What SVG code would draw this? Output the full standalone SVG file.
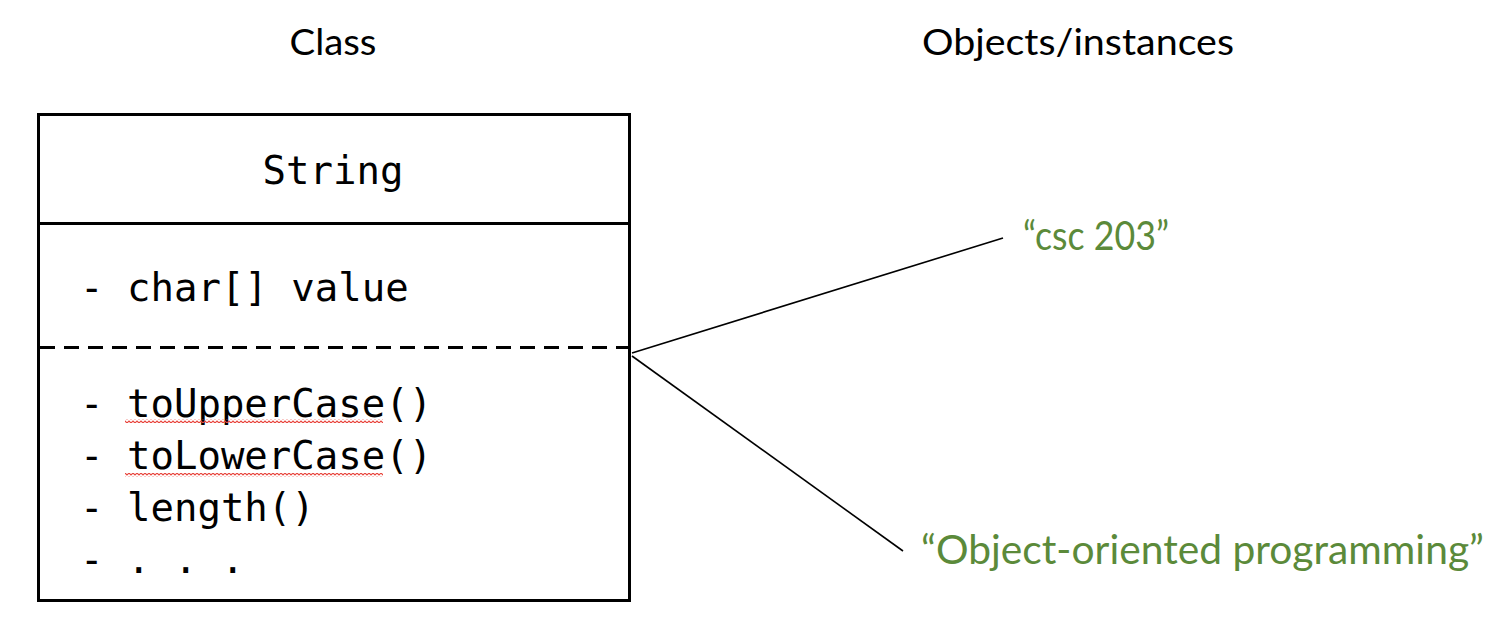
<svg xmlns="http://www.w3.org/2000/svg" width="1496" height="620" viewBox="0 0 1496 620">
<style>
.hdr{font-family:Lato,"Open Sans","Liberation Sans",sans-serif;font-size:36px;fill:#000}
.mono{font-family:"DejaVu Sans Mono","Liberation Mono",monospace;font-size:39px;fill:#000}
.obj{font-family:Lato,"Open Sans","Liberation Sans",sans-serif;font-size:40px;fill:#5b8a3a}
.box{fill:#fff;stroke:#000;stroke-width:3}
.sep{stroke:#000;stroke-width:3}
.dash{stroke:#000;stroke-width:3;stroke-dasharray:15 9}
.conn{stroke:#000;stroke-width:1.6;fill:none}
</style>
<defs>
<pattern id="wave" x="0" y="0" width="4" height="4" patternUnits="userSpaceOnUse">
<path d="M-1,3 L1,1 L3,3 L5,1" stroke="#e8453c" stroke-width="1.2" fill="none"/>
</pattern>
</defs>
<rect width="1496" height="620" fill="#fff"/>
<g id="title-class"><text class="hdr" x="333" y="55" text-anchor="middle" textLength="87" lengthAdjust="spacingAndGlyphs">Class</text></g>
<g id="title-objects"><text class="hdr" x="922" y="55" textLength="312" lengthAdjust="spacingAndGlyphs">Objects/instances</text></g>
<g id="class-string">
<rect class="box" x="38.5" y="114.5" width="591" height="486"/>
<line class="sep" x1="38" y1="223.5" x2="630" y2="223.5"/>
<line class="dash" x1="40" y1="347.5" x2="630" y2="347.5"/>
<text class="mono" x="333" y="184" text-anchor="middle">String</text>
<text class="mono" x="80" y="301" xml:space="preserve">- char[] value</text>
<text class="mono" x="80" y="417" xml:space="preserve">- toUpperCase()</text>
<text class="mono" x="80" y="469" xml:space="preserve">- toLowerCase()</text>
<text class="mono" x="80" y="521" xml:space="preserve">- length()</text>
<text class="mono" x="80" y="573" xml:space="preserve">- . . .</text>
<rect x="125" y="419" width="258" height="4" fill="url(#wave)"/>
<rect x="125" y="473" width="258" height="4" fill="url(#wave)"/>
</g>
<g id="connectors">
<line class="conn" x1="632" y1="353" x2="1003" y2="238"/>
<line class="conn" x1="632" y1="356" x2="903" y2="551"/>
</g>
<g id="obj-csc"><text class="obj" x="1023" y="250" textLength="146" lengthAdjust="spacingAndGlyphs">“csc 203”</text></g>
<g id="obj-oop"><text class="obj" x="921" y="564" textLength="563" lengthAdjust="spacingAndGlyphs">“Object-oriented programming”</text></g>
</svg>
